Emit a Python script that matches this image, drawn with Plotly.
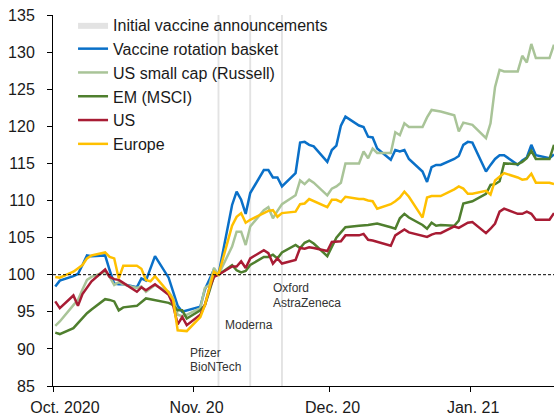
import pandas as pd
import plotly.graph_objects as go

# ---- data (weekday closes, index = 100 on 6 Nov 2020) ----
dates = pd.bdate_range("2020-10-01", "2021-01-19")

announcement_dates = ["2020-11-06", "2020-11-13", "2020-11-20"]

vaccine_basket = [
    98.4, 99.2, 99.8, 100.1, 101.3, 102.6, 102.5, 102.6, 100.6, 98.8, 98.7, 98.7, 98.3, 99.5, 99.2, 100.9, 102.5, 99.6, 97.6, 95.8, 95.0, 95.2,
    95.7, 98.0, 99.4, 100.7, 100.0, 109.4, 111.2, 110.1, 108.2, 111.0, 114.1, 114.1, 113.1, 113.1, 111.9, 113.7, 117.8, 117.9, 117.5, 117.3, 115.2,
    116.8, 117.4, 120.1, 121.3, 120.1, 119.9, 118.6, 118.5, 117.0, 115.5, 116.8, 116.6, 116.8, 115.6, 113.9, 112.5, 114.5, 114.8, 114.8, 115.6, 116.0, 117.5, 117.9,
    117.8, 113.9, 114.8, 115.6, 116.1, 116.1, 114.8, 115.4, 115.8, 117.5, 116.1, 115.7, 116.2,
]
us_small_cap = [
    93.1, 93.7, 95.9, 96.6, 98.0, 99.3, 99.7, 100.4, 99.7, 98.6, 99.0, 98.7, 98.2, 98.4, 97.7, 98.2, 98.6, 97.7, 96.8, 94.6, 94.4, 94.6,
    95.5, 98.2, 98.6, 100.9, 100.0, 103.8, 105.8, 105.8, 104.0, 106.5, 108.7, 109.1, 107.6, 108.6, 109.5, 110.7, 112.7, 112.2, 112.8, 112.4, 110.7,
    111.6, 111.9, 112.4, 115.0, 115.0, 116.6, 115.7, 117.0, 116.4, 116.4, 119.2, 118.8, 120.4, 119.9, 119.9, 121.2, 122.2, 122.1, 122.0, 121.5, 119.3, 120.5, 120.3,
    120.2, 118.4, 120.4, 125.3, 127.6, 127.4, 127.4, 129.5, 128.6, 131.1, 129.2, 129.2, 131.0,
]
em_msci = [
    92.2, 92.0, 92.8, 93.5, 94.2, 94.8, 95.3, 96.7, 96.6, 96.4, 95.2, 95.6, 95.8, 96.3, 96.8, 96.7, 96.6, 96.2, 95.9, 95.2, 95.2, 94.1,
    95.2, 95.9, 97.8, 99.8, 100.0, 101.3, 100.6, 100.3, 100.5, 101.3, 102.4, 102.4, 102.7, 102.2, 103.0, 104.0, 103.6, 104.3, 104.6, 104.2, 102.5,
    103.8, 105.0, 105.7, 106.4, 106.6, 106.6, 106.7, 106.8, 106.9, 106.4, 106.2, 107.6, 108.2, 107.7, 106.7, 106.2, 107.0, 106.6, 106.7, 106.6, 107.3, 109.6, 109.8,
    109.9, 110.9, 112.1, 112.2, 112.6, 115.0, 114.9, 115.2, 115.7, 116.7, 115.6, 115.6, 117.5,
]
us = [
    96.4, 95.5, 97.2, 95.8, 97.4, 98.3, 99.1, 100.7, 99.7, 99.4, 99.3, 98.9, 97.7, 98.3, 97.9, 98.3, 98.7, 97.3, 95.9, 93.3, 94.3, 93.2,
    94.6, 95.9, 98.2, 99.7, 100.0, 101.1, 101.1, 101.8, 100.9, 102.2, 103.3, 102.9, 101.5, 102.2, 101.5, 102.0, 103.6, 103.5, 103.7, 103.6, 103.2,
    104.4, 104.4, 104.5, 105.3, 105.3, 105.5, 104.7, 104.6, 104.4, 103.9, 105.3, 105.7, 106.1, 105.7, 105.2, 105.1, 105.4, 105.6, 105.6, 106.5, 106.3, 106.7, 107.0,
    107.1, 105.6, 106.2, 106.9, 108.5, 108.9, 108.2, 108.2, 108.5, 108.2, 107.4, 107.4, 108.3,
]
europe = [
    99.7, 99.6, 100.4, 100.9, 101.3, 102.2, 102.6, 103.0, 102.4, 102.2, 99.5, 101.2, 101.2, 100.8, 99.3, 99.1, 99.8, 97.6, 96.6, 92.5, 92.4, 92.4,
    94.3, 95.9, 98.2, 100.4, 100.0, 106.6, 107.8, 108.3, 107.0, 107.4, 108.3, 108.6, 108.7, 107.8, 108.3, 108.5, 109.5, 109.6, 110.2, 109.9, 109.1,
    110.1, 110.1, 109.8, 110.5, 110.2, 110.2, 110.0, 109.9, 108.9, 109.5, 109.9, 110.4, 111.2, 110.5, 107.7, 110.4, 110.6, 110.6, 110.6, 111.5, 111.9, 111.6, 110.9,
    110.9, 111.3, 110.8, 112.7, 113.2, 113.7, 113.1, 112.8, 112.9, 113.6, 112.4, 112.4, 112.2,
]

series_names = ["Vaccine rotation basket", "US small cap (Russell)", "EM (MSCI)", "US", "Europe"]
series_values = [vaccine_basket, us_small_cap, em_msci, us, europe]
series_colors = ["#0A70C8", "#A9C498", "#4F7F2E", "#A81C34", "#FFC000"]

tick_dates = ["2020-09-30 12:00", "2020-10-31 12:00", "2020-11-30 12:00", "2020-12-31 12:00"]
tick_labels = ["\u00a0\u00a0\u00a0\u00a0Oct. 2020", "Nov. 20", "Dec. 20", "Jan. 21"]

y_min, y_max, y_step = 85, 135, 5
base_level = 100

FONT = "Liberation Sans, Arial, sans-serif"

fig = go.Figure()

# announcement bands (thin vertical bars through the whole value range)
bx, by = [], []
half = pd.Timedelta(hours=5)
for d in announcement_dates:
    t = pd.Timestamp(d)
    bx += [t - half, t + half, t + half, t - half, t - half, None]
    by += [y_min, y_min, y_max, y_max, y_min, None]
fig.add_trace(go.Scatter(
    x=bx, y=by, mode="lines", fill="toself", fillcolor="#E3E3E3",
    line=dict(width=0, color="#E3E3E3"), name="Initial vaccine announcements",
    hoverinfo="skip",
))

for name, vals, col in zip(series_names, series_values, series_colors):
    fig.add_trace(go.Scatter(
        x=dates, y=vals, mode="lines", name=name,
        line=dict(color=col, width=2.5),
    ))

fig.add_shape(type="line", xref="paper", x0=0, x1=1, yref="y", y0=base_level, y1=base_level,
              line=dict(color="#000000", width=1, dash="3px,2px"))

ann_font = dict(family=FONT, size=12, color="#333333")
labels = [
    ("Pfizer", 187.7, 352.7), ("BioNTech", 187.7, 367.3),
    ("Moderna", 223.3, 325.0),
    ("Oxford", 271.3, 288.3), ("AstraZeneca", 271.3, 302.7),
]
L, T, W, H = 53, 15, 501, 371
for txt, px, py in labels:
    fig.add_annotation(text=txt, xref="paper", yref="paper",
                       x=(px - L) / W, y=(T + H - py) / H,
                       xanchor="left", yanchor="middle", showarrow=False, font=ann_font)

fig.update_layout(
    width=554, height=419,
    margin=dict(l=53, r=0, t=15, b=33),
    paper_bgcolor="white", plot_bgcolor="white",
    font=dict(family=FONT, size=16, color="#1a1a1a"),
    showlegend=True,
    legend=dict(x=0.04, y=1.019, xanchor="left", yanchor="top",
                bgcolor="rgba(0,0,0,0)", font=dict(family=FONT, size=16, color="#1a1a1a"),
                tracegroupgap=0, itemwidth=30),
    hovermode=False,
)
fig.update_xaxes(
    type="date", range=["2020-09-30 12:00", "2021-01-19 00:00"],
    tickmode="array", tickvals=tick_dates, ticktext=tick_labels,
    ticks="outside", ticklen=5, tickwidth=1, tickcolor="#000000",
    showline=True, linecolor="#000000", linewidth=1,
    showgrid=False, zeroline=False,
    ticklabelstandoff=2, ticklabelshift=3,
    tickfont=dict(family=FONT, size=16, color="#1a1a1a"),
)
fig.update_yaxes(
    range=[y_min, y_max], tick0=y_min, dtick=y_step,
    ticks="outside", ticklen=5, tickwidth=1, tickcolor="#000000",
    showline=True, linecolor="#000000", linewidth=1,
    showgrid=False, zeroline=False,
    ticklabelstandoff=9,
    tickfont=dict(family=FONT, size=16, color="#1a1a1a"),
)

fig.write_html("out.html")
